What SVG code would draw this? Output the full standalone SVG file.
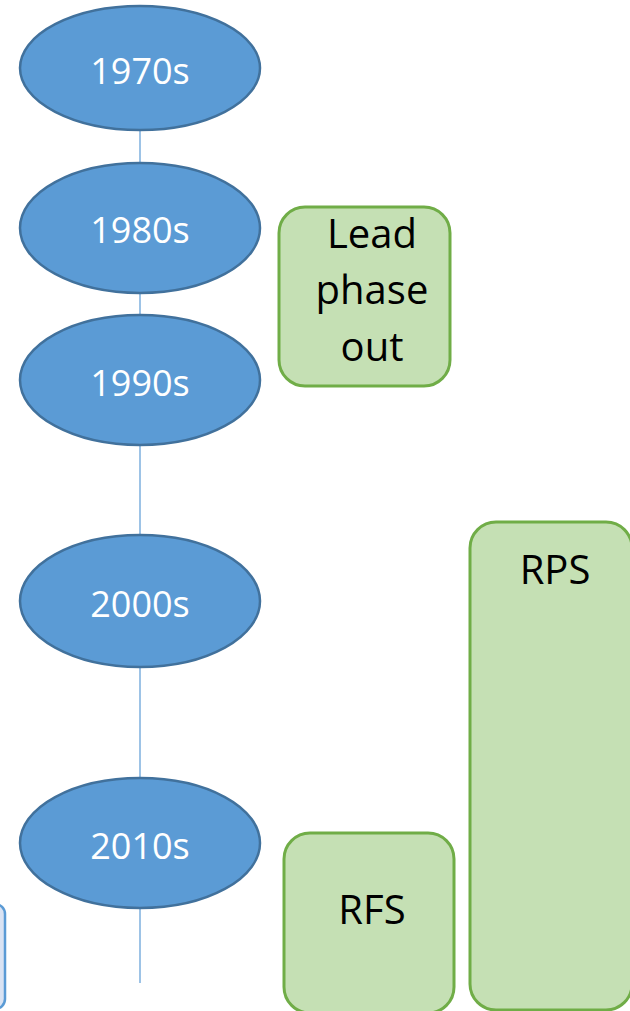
<svg xmlns="http://www.w3.org/2000/svg" width="630" height="1011" viewBox="0 0 630 1011">
<style>
.ell{fill:#5B9BD5;stroke:#41719C;stroke-width:2.5}
.et{fill:#fff;font-family:"Open Sans",sans-serif;font-size:36px;text-anchor:middle}
.box{fill:#C5E0B4;stroke:#70AD47;stroke-width:3}
.bt{fill:#000;font-family:"Open Sans",sans-serif;font-size:40px;text-anchor:middle}
</style>
<rect width="630" height="1011" fill="#fff"/>
<g id="connectors">
<line x1="140" y1="128" x2="140" y2="983" stroke="#9DC3E6" stroke-width="2"/>
</g>
<g id="n1970"><ellipse class="ell" cx="140" cy="68" rx="120" ry="62"/><text class="et" x="140" y="84">1970s</text></g>
<g id="n1980"><ellipse class="ell" cx="140" cy="228" rx="120" ry="65"/><text class="et" x="140" y="243">1980s</text></g>
<g id="n1990"><ellipse class="ell" cx="140" cy="380" rx="120" ry="65"/><text class="et" x="140" y="396">1990s</text></g>
<g id="n2000"><ellipse class="ell" cx="140" cy="601" rx="120" ry="66"/><text class="et" x="140" y="617">2000s</text></g>
<g id="n2010"><ellipse class="ell" cx="140" cy="843" rx="120" ry="65"/><text class="et" x="140" y="859">2010s</text></g>
<g id="lead"><rect class="box" x="279" y="207" width="171" height="179" rx="26"/>
<text class="bt" x="372" y="248">Lead</text><text class="bt" x="372" y="304">phase</text><text class="bt" x="372" y="361">out</text></g>
<g id="rfs"><rect class="box" x="284" y="833" width="170" height="180" rx="26"/><text class="bt" x="372" y="924">RFS</text></g>
<g id="rps"><rect class="box" x="470" y="522" width="162" height="488" rx="26"/><text class="bt" x="555" y="584">RPS</text></g>
<g id="leftbox"><rect x="-40" y="904" width="45" height="105" rx="10" fill="#DAE3F3" stroke="#5B9BD5" stroke-width="2.5"/></g>
</svg>
